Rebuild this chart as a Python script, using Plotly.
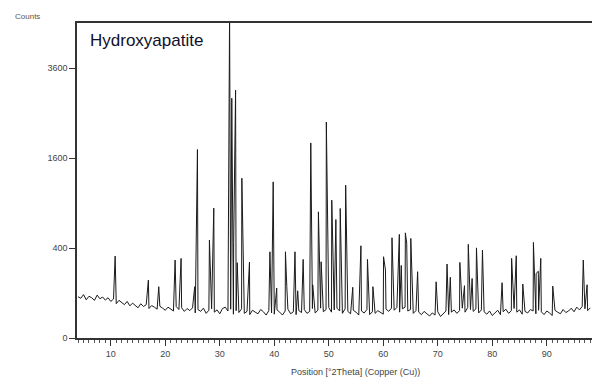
import numpy as np
import plotly.graph_objects as go

# Background scan (2theta grid every 0.5 deg) and counts
bg_start, bg_step = 4.0, 0.5
bg_counts = [
    84, 78, 93, 72, 86, 80, 70, 91, 76, 83,
    71, 80, 66, 75, 58, 70, 62, 55, 66, 51,
    60, 53, 45, 58, 49, 55, 43, 52, 47, 41,
    50, 44, 38, 47, 42, 36, 49, 40, 45, 35,
    43, 37, 45, 31, 40, 35, 44, 30, 38, 42,
    33, 39, 29, 43, 47, 36, 41, 28, 37, 32,
    42, 30, 35, 27, 38, 33, 29, 40, 34, 26,
    37, 31, 28, 39, 33, 26, 36, 41, 29, 34,
    27, 37, 32, 40, 30, 35, 43, 31, 38, 44,
    34, 40, 46, 33, 39, 44, 36, 30, 42, 35,
    29, 38, 33, 26, 36, 31, 40, 27, 34, 30,
    37, 32, 28, 41, 35, 44, 38, 46, 33, 42,
    47, 36, 40, 30, 37, 33, 27, 35, 29, 24,
    31, 26, 34, 23, 29, 36, 27, 33, 39, 30,
    37, 44, 33, 46, 40, 35, 42, 31, 39, 34,
    28, 36, 25, 32, 38, 27, 34, 41, 30, 37,
    43, 33, 39, 28, 35, 31, 40, 36, 29, 38,
    34, 27, 36, 31, 25, 38, 33, 29, 40, 32,
    36, 44, 34, 47, 39, 49, 42, 37, 45,
]
bg_pos = bg_start + bg_step * np.arange(len(bg_counts))

# Peak apexes / valley points
peak_pos = [10.8, 16.9, 18.8, 21.8, 22.9, 25.4, 25.9, 28.1, 28.9,
            31.8, 32.05, 32.2, 32.55, 32.9, 33.2, 34.05, 34.3, 35.45,
            39.2, 39.8, 40.45, 42.05, 42.3, 43.8, 44.3, 45.3, 46.7, 47.05,
            48.1, 48.6, 49.55, 50.55, 51.3, 52.1, 53.1, 54.4, 55.9, 57.1,
            58.1, 60.05, 60.4, 61.6, 62.95, 63.3, 64.05, 64.3, 65.05, 66.3,
            69.7, 71.7, 72.3, 74.05, 74.9, 75.6, 76.3, 77.1, 78.2, 81.8,
            83.55, 84.4, 85.6, 87.55, 88.05, 88.45, 88.9, 91.1, 96.7, 97.4]
peak_counts = [331, 166, 130, 300, 313, 130, 1755, 473, 833,
               5200, 260, 2838, 450, 3031, 280, 1261, 250, 285,
               367, 1204, 123, 367, 130, 367, 110, 305, 1879, 140,
               786, 287, 2304, 938, 693, 828, 1153, 127, 420, 305,
               130, 326, 228, 496, 530, 260, 546, 445, 490, 217,
               156, 270, 182, 282, 135, 433, 175, 401, 381, 151,
               313, 334, 144, 451, 206, 220, 313, 133, 300, 140]

y_tick_counts = [0, 400, 1600, 3600]
x_tick_vals = [10, 20, 30, 40, 50, 60, 70, 80, 90]

x_all = np.concatenate([bg_pos, np.array(peak_pos)])
y_all = np.concatenate([np.array(bg_counts, float), np.array(peak_counts, float)])
order = np.argsort(x_all, kind="stable")
x_all, y_all = x_all[order], y_all[order]

fig = go.Figure()
fig.add_trace(go.Scatter(
    x=x_all, y=np.sqrt(y_all), mode="lines",
    line=dict(color="#1a1a1a", width=1), showlegend=False, hoverinfo="skip"))

tick_font = dict(family="Liberation Sans, Arial, sans-serif", size=9, color="#444444")
fig.update_layout(
    width=592, height=378,
    margin=dict(l=77, r=0, t=23, b=40),
    paper_bgcolor="white", plot_bgcolor="white",
    xaxis=dict(range=[3.8, 98.3], tickvals=x_tick_vals, ticks="outside", ticklen=6,
               tickcolor="#333", tickwidth=1, showgrid=False, zeroline=False,
               showline=True, linecolor="#333", linewidth=1.5, mirror=True,
               tickfont=tick_font,
               minor=dict(dtick=1, ticks="outside", ticklen=3, tickcolor="#555", showgrid=False)),
    yaxis=dict(range=[0, 70], tickvals=[np.sqrt(v) for v in y_tick_counts],
               ticktext=[str(v) for v in y_tick_counts], ticks="outside", ticklen=6,
               tickcolor="#333", showgrid=False, zeroline=False, showline=True,
               linecolor="#333", linewidth=1.5, mirror=False, tickfont=tick_font),
    annotations=[
        dict(text="Hydroxyapatite", xref="paper", yref="paper", x=0.021, y=0.943,
             xanchor="left", yanchor="middle", showarrow=False,
             font=dict(family="Liberation Sans, Arial, sans-serif", size=17, color="#10102a")),
        dict(text="Counts", xref="paper", yref="paper", x=-0.097, y=1.022,
             xanchor="center", yanchor="middle", showarrow=False,
             font=dict(family="Liberation Sans, Arial, sans-serif", size=8, color="#555555")),
        dict(text="Position [°2Theta] (Copper (Cu))", xref="paper", yref="paper",
             x=0.54, y=-0.108, xanchor="center", yanchor="middle", showarrow=False,
             font=dict(family="Liberation Sans, Arial, sans-serif", size=9, color="#444444")),
    ],
)
fig.write_html("out.html")
